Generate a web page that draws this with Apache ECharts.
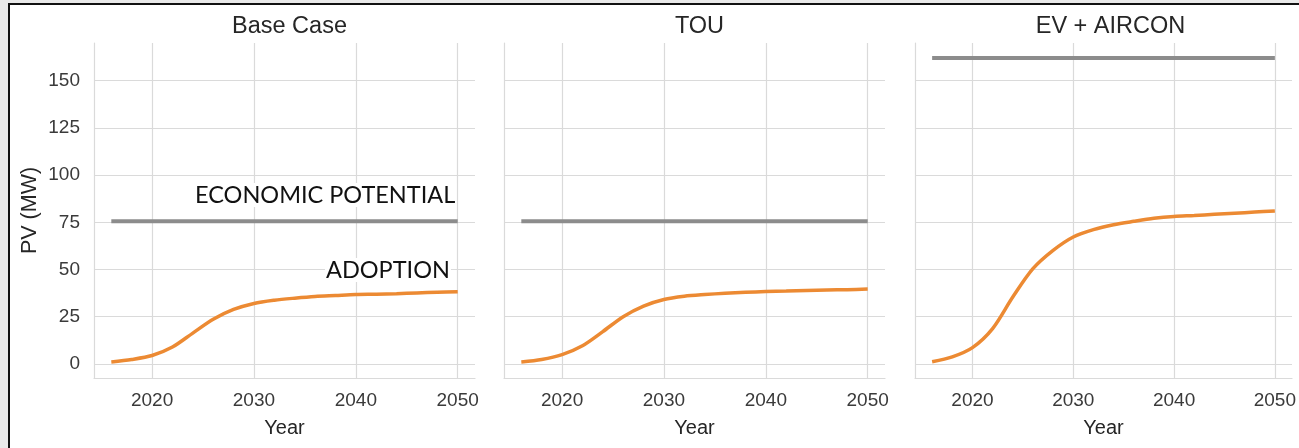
<!DOCTYPE html>
<html>
<head>
<meta charset="utf-8">
<script src="https://cdn.jsdelivr.net/npm/echarts@6/dist/echarts.min.js"></script>
<style>
html,body{margin:0;padding:0;width:1299px;height:448px;overflow:hidden;background:#e9e9e9;}
#frame{position:absolute;left:8px;top:3px;width:1300px;height:460px;background:#fff;border-left:2px solid #111;border-top:2px solid #111;}
#chart{position:absolute;left:0;top:0;width:1299px;height:448px;}
</style>
</head>
<body>
<div id="frame"></div>
<div id="chart"></div>
<script>
const panelTitles = ['Base Case', 'TOU', 'EV + AIRCON'];
const years = [2016,2018,2020,2022,2024,2026,2028,2030,2032,2034,2036,2038,2040,2042,2044,2046,2048,2050];
const adoptionBase = [1.0,2.3,4.4,8.9,16.3,23.6,28.8,32.0,33.7,34.8,35.7,36.2,36.7,36.9,37.2,37.6,37.9,38.2];
const adoptionTOU = [1.0,2.3,4.9,9.6,17.1,25.0,30.6,34.1,35.8,36.7,37.4,37.9,38.3,38.6,38.9,39.1,39.3,39.6];
const adoptionEV = [1.1,3.7,8.6,18.7,35.4,50.4,60.1,67.2,71.1,73.7,75.5,77.1,78.1,78.6,79.2,79.8,80.4,81.0];
const economicPotential = [75.5, 75.5, 162];
const potentialYears = [2016, 2050];
const xTicks = [2020, 2030, 2040, 2050];
const yTicks = [0, 25, 50, 75, 100, 125, 150];

const adoption = [adoptionBase, adoptionTOU, adoptionEV];
const gridLefts = [94, 504, 915];
const gridW = 381, gridTop = 43, gridH = 335;
const gridColor = '#dadada';
const tickFont = {fontFamily: 'Liberation Sans, Arial', fontSize: 19, color: '#3a3a3a'};

const chart = echarts.init(document.getElementById('chart'), null, {renderer: 'canvas'});
const grids = [], xAxes = [], yAxes = [], series = [], titles = [];
for (let i = 0; i < 3; i++) {
  grids.push({left: gridLefts[i], top: gridTop, width: gridW, height: gridH, containLabel: false});
  titles.push({
    text: panelTitles[i], left: gridLefts[i] + gridW / 2, top: 10, textAlign: 'center',
    textStyle: {fontFamily: 'Liberation Sans, Arial', fontSize: 23.5, fontWeight: 'normal', color: '#262626'}
  });
  xAxes.push({
    type: 'value', gridIndex: i, min: 2014.3, max: 2051.7,
    name: 'Year', nameLocation: 'middle', nameGap: 40,
    nameTextStyle: {fontFamily: 'Liberation Sans, Arial', fontSize: 20, color: '#262626'},
    axisLine: {show: true, onZero: false, lineStyle: {color: gridColor, width: 1.2}},
    axisTick: {show: false, customValues: xTicks},
    axisLabel: Object.assign({customValues: xTicks, margin: 13, formatter: v => String(Math.round(v))}, tickFont),
    splitLine: {show: true, lineStyle: {color: gridColor, width: 1.2}}
  });
  yAxes.push({
    type: 'value', gridIndex: i, min: -7.5, max: 170,
    name: i === 0 ? 'PV (MW)' : '', nameLocation: 'middle', nameGap: 53,
    nameTextStyle: {fontFamily: 'Liberation Sans, Arial', fontSize: 21.5, color: '#262626'},
    axisLine: {show: true, lineStyle: {color: gridColor, width: 1.2}},
    axisTick: {show: false, customValues: yTicks},
    axisLabel: Object.assign({show: i === 0, customValues: yTicks, margin: 14}, tickFont),
    splitLine: {show: true, lineStyle: {color: gridColor, width: 1.2}}
  });
  series.push({
    type: 'line', xAxisIndex: i, yAxisIndex: i, symbol: 'none', silent: true,
    data: potentialYears.map(y => [y, economicPotential[i]]),
    lineStyle: {color: '#8c8c8c', width: 4}
  });
  series.push({
    type: 'line', xAxisIndex: i, yAxisIndex: i, symbol: 'none', silent: true, smooth: 0.3,
    data: years.map((y, k) => [y, adoption[i][k]]),
    lineStyle: {color: '#ec8a33', width: 3.5}
  });
}

chart.setOption({
  animation: false,
  backgroundColor: 'transparent',
  title: titles,
  grid: grids,
  xAxis: xAxes,
  yAxis: yAxes,
  series: series,
  graphic: [
    {type: 'text', left: 194, top: 183, z: 100, style: {text: 'ECONOMIC POTENTIAL', fontFamily: 'Lato', fontSize: 23.5, fill: '#111', backgroundColor: '#fff', padding: [0, 1]}},
    {type: 'text', left: 325, top: 258, z: 100, style: {text: 'ADOPTION', fontFamily: 'Lato', fontSize: 23.5, fill: '#111', backgroundColor: '#fff', padding: [0, 1]}}
  ]
});
</script>
</body>
</html>
